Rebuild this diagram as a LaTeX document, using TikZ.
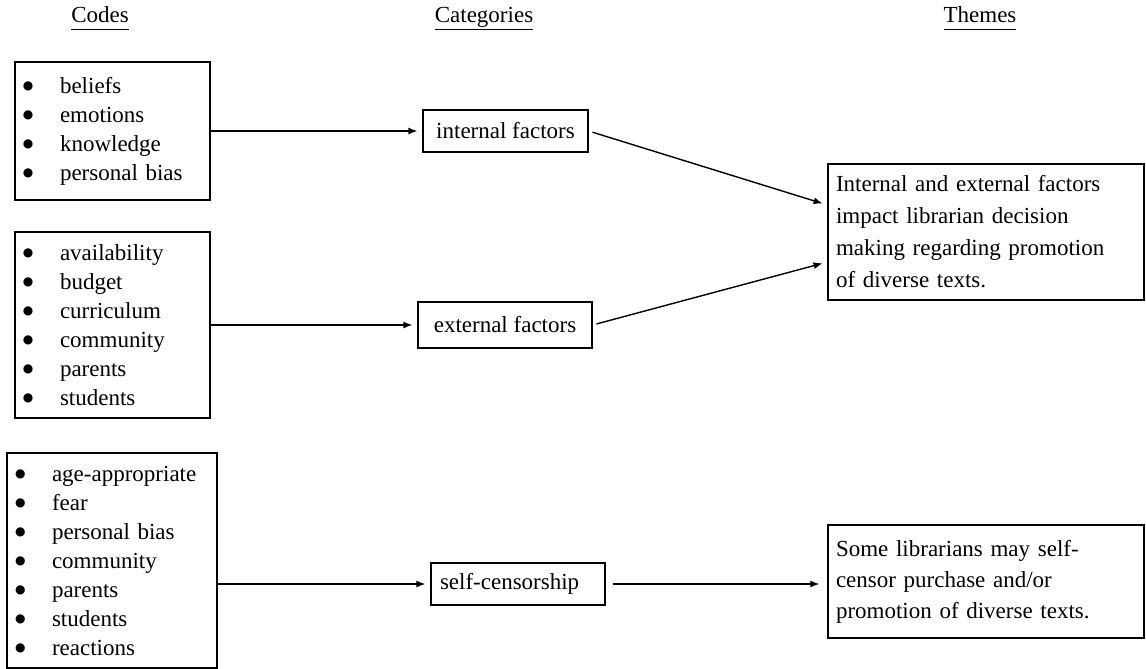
\documentclass[tikz,border=0pt]{standalone}
\usepackage{fontspec}
\setmainfont{Liberation Serif}
\newfontfamily\symfont{DejaVu Sans}
\usetikzlibrary{arrows.meta}

\newcommand{\itm}[1]{\makebox[37pt][l]{\raisebox{4pt}{\symfont\fontsize{12}{12}\selectfont ●}}#1}
\newcommand{\hd}[1]{\underline{\vphantom{g}#1}}

\begin{document}
\begin{tikzpicture}[x=1pt,y=-1pt]
\tikzstyle{every node}=[font=\fontsize{23}{29}\selectfont]
\tikzstyle{head}=[anchor=base,inner sep=0pt]
\tikzstyle{codes}=[draw,line width=1.2pt,align=left,inner xsep=8pt,inner ysep=0pt]
\tikzstyle{categ}=[draw,line width=1.2pt,inner sep=3pt]
\tikzstyle{theme}=[draw,line width=1.2pt,align=left,inner xsep=8pt,inner ysep=0pt,text width=300pt]
\tikzstyle{conn}=[-{Latex[length=9pt,width=7pt]},line width=1.4pt,shorten >=5pt]
\useasboundingbox (0,0) rectangle (1146,669);
% headings
\node[head] (hcodes) at (100,23) {\hd{Codes}};
\node[head] (hcateg) at (484,23) {\hd{Categories}};
\node[head] (htheme) at (980,23) {\hd{Themes}};
% codes
\node[codes,text width=179pt,minimum height=138pt] (codesA) at (112.5,131)
  {\itm{beliefs}\\ \itm{emotions}\\ \itm{knowledge}\\ \itm{personal bias}};
\node[codes,text width=179pt,minimum height=186pt] (codesB) at (112.5,325)
  {\itm{availability}\\ \itm{budget}\\ \itm{curriculum}\\ \itm{community}\\ \itm{parents}\\ \itm{students}};
\node[codes,text width=194pt,minimum height=215pt] (codesC) at (112,560.5)
  {\itm{age-appropriate}\\ \itm{fear}\\ \itm{personal bias}\\ \itm{community}\\ \itm{parents}\\ \itm{students}\\ \itm{reactions}};
% categories
\node[categ,minimum width=165pt,minimum height=42pt] (internal) at (505.5,131) {internal factors};
\node[categ,minimum width=174pt,minimum height=46pt] (external) at (505,325) {external factors};
\node[categ,align=left,inner xsep=9pt,text width=156pt,minimum height=42pt] (selfcens) at (518,584) {self-censorship};
% themes
\node[theme,minimum height=136pt,font=\fontsize{23}{32}\selectfont] (themeA) at (986,232)
  {Internal and external factors\\ impact librarian decision\\ making regarding promotion\\ of diverse texts.};
\node[theme,minimum height=113pt,font=\fontsize{23}{31}\selectfont] (themeB) at (986,581.5)
  {Some librarians may self-\\ censor purchase and/or\\ promotion of diverse texts.};
% arrows
\draw[conn] (codesA) -- (internal);
\draw[conn] (codesB) -- (external);
\draw[conn] (codesC.east |- selfcens) -- (selfcens);
\draw[conn,shorten <=4pt] (internal.east) -- ([yshift=27pt]themeA.west);
\draw[conn,shorten <=4pt] (external.east) -- ([yshift=-30pt]themeA.west);
\draw[conn,shorten <=7pt,shorten >=8pt] (selfcens.east) -- (selfcens.east -| themeB.west);
\end{tikzpicture}
\end{document}
